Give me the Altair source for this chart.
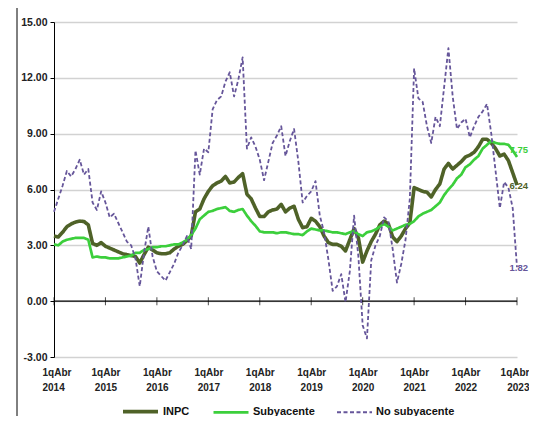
import altair as alt
import pandas as pd

# month index 0 = 1qAbr 2014 ... 108 = 1qAbr 2023
years = [2014, 2015, 2016, 2017, 2018, 2019, 2020, 2021, 2022, 2023]

inpc = [3.5, 3.45, 3.7, 4.0, 4.15, 4.25, 4.3, 4.28, 4.1, 3.1, 3.0, 3.15,
        2.95, 2.85, 2.75, 2.65, 2.55, 2.5, 2.45, 2.4, 2.05, 2.5, 2.9, 2.75,
        2.6, 2.55, 2.55, 2.6, 2.8, 2.95, 3.05, 3.25, 3.5, 4.8, 4.95, 5.5,
        5.9, 6.2, 6.35, 6.45, 6.7, 6.35, 6.4, 6.65, 6.85, 5.75, 5.5, 5.0,
        4.55, 4.55, 4.8, 4.9, 4.95, 5.2, 4.8, 5.0, 5.1, 4.4, 3.95, 4.0,
        4.45, 4.3, 4.0, 3.5, 3.15, 3.05, 3.05, 2.95, 2.7, 3.3, 3.9, 3.4,
        2.1, 2.7, 3.2, 3.6, 4.1, 4.3, 4.15, 3.45, 3.2, 3.5, 3.9, 4.2,
        6.1, 6.0, 5.9, 5.85, 5.6, 6.0, 6.3, 7.1, 7.4, 7.1, 7.3, 7.5,
        7.75, 7.85, 8.0, 8.3, 8.7, 8.7, 8.5, 8.2, 7.8, 7.9, 7.55, 6.9,
        6.24]

subyacente = [3.05, 3.0, 3.2, 3.3, 3.35, 3.4, 3.4, 3.4, 3.3, 2.35, 2.4, 2.35,
              2.35, 2.3, 2.3, 2.3, 2.35, 2.4, 2.45, 2.6, 2.6, 2.75, 2.8, 2.9,
              2.9, 2.95, 2.95, 3.0, 3.05, 3.05, 3.15, 3.3, 3.55, 3.9, 4.4, 4.6,
              4.8, 4.85, 4.95, 5.0, 5.05, 4.85, 4.8, 4.9, 4.95, 4.6, 4.3, 4.05,
              3.75, 3.7, 3.7, 3.7, 3.65, 3.7, 3.7, 3.65, 3.6, 3.6, 3.55, 3.75,
              3.9, 3.85, 3.8, 3.8, 3.75, 3.7, 3.7, 3.65, 3.6, 3.7, 3.75, 3.6,
              3.5, 3.7, 3.75, 3.85, 4.0, 4.15, 4.0, 3.8, 3.9, 4.0, 4.1, 4.15,
              4.3, 4.55, 4.7, 4.8, 4.9, 5.1, 5.3, 5.7, 6.0, 6.25, 6.6, 6.8,
              7.2, 7.35, 7.6, 7.8, 8.2, 8.4, 8.6, 8.5, 8.45, 8.45, 8.4, 8.1,
              7.75]

no_subyacente = [4.8, 5.5, 6.2, 7.0, 6.7, 7.1, 7.6, 6.8, 7.1, 5.3, 4.9, 5.9,
                 5.3, 4.5, 4.7, 4.2, 3.7, 3.2, 3.0, 2.3, 0.8, 2.6, 4.0, 2.4,
                 1.6, 1.35, 1.1, 1.55, 2.0, 2.6, 3.0, 3.5, 2.8, 8.1, 6.8, 8.2,
                 8.0, 10.3, 10.8, 11.0, 11.8, 12.3, 11.0, 11.9, 13.1, 8.2, 8.8, 8.3,
                 7.6, 6.5, 7.5, 8.5, 8.9, 9.4, 7.8, 8.6, 9.25, 7.5, 5.3, 5.65,
                 5.9, 6.45, 4.6, 3.7, 2.25, 0.55, 0.8, 1.45, -0.05, 1.6, 4.6, 2.4,
                 -1.3, -2.0, 2.2, 3.0, 3.5, 4.5, 4.3, 2.8, 1.0, 2.0, 3.3, 5.5,
                 12.5, 10.9, 10.7, 9.4, 8.5, 9.9, 9.4, 11.5, 13.6, 11.0, 9.25, 9.6,
                 9.8, 8.8, 9.4, 9.9, 10.2, 10.6, 9.0, 7.0, 5.0, 6.4, 6.1, 5.0,
                 1.82]

series_names = ["INPC", "Subyacente", "No subyacente"]
series_colors = ["#4f6228", "#3ccf3c", "#66569a"]
series_widths = [3.6, 1.8, 1.4]

rows = []
for name, vals in zip(series_names, [inpc, subyacente, no_subyacente]):
    for i, v in enumerate(vals):
        rows.append({"t": i, "v": v, "serie": name})
df = pd.DataFrame(rows)

FONT = "Liberation Sans, Arial"

xscale = alt.Scale(domain=[0, 108], nice=False, zero=False)
yscale = alt.Scale(domain=[-3, 15], nice=False, zero=False)

year_ticks = [12 * (y - 2014) for y in years]

base_x = alt.X(
    "t:Q", scale=xscale, title=None,
    axis=alt.Axis(values=year_ticks, domain=False, ticks=False, grid=False,
                  labelExpr="['1qAbr', '' + (2014 + datum.value / 12)]",
                  labelFont=FONT, labelFontSize=10, labelFontWeight="bold",
                  labelColor="#222222", labelPadding=10, labelLineHeight=15,
                  labelBaseline="top", labelFlush=True, labelFlushOffset=12,
                  labelOverlap=False)
)

legend = alt.Legend(title=None, orient="none", legendX=67, legendY=370,
                    direction="horizontal", symbolType="stroke", symbolSize=1225,
                    labelFont=FONT, labelFontSize=11, labelFontWeight="bold",
                    labelColor="#111111", labelOffset=3, columnPadding=18,
                    padding=0, labelLimit=200)

lines = alt.Chart(df).mark_line(strokeJoin="round").encode(
    x=base_x,
    y=alt.Y("v:Q", scale=yscale, title=None,
            axis=alt.Axis(values=[-3, 0, 3, 6, 9, 12, 15],
                          labelExpr="datum.value < 0 ? '-' + format(-datum.value, '.2f') : format(datum.value, '.2f')",
                          labelFont=FONT, labelFontSize=10.5, labelFontWeight="bold",
                          labelColor="#222222", labelPadding=3,
                          domainColor="#000000", domainWidth=1,
                          tickColor="#000000", tickSize=4,
                          gridColor="#d2d2d2", gridWidth=1.6)),
    color=alt.Color("serie:N", scale=alt.Scale(domain=series_names, range=series_colors),
                    sort=series_names, legend=legend),
    strokeDash=alt.StrokeDash("serie:N", scale=alt.Scale(domain=series_names,
                              range=[[1, 0], [1, 0], [4, 2.5]]), sort=series_names,
                              legend=legend),
    strokeWidth=alt.StrokeWidth("serie:N", scale=alt.Scale(domain=series_names, range=series_widths),
                                sort=series_names, legend=legend),
    order=alt.Order("t:Q"),
)

zero_df = pd.DataFrame({"v": [0]})
zero_rule = alt.Chart(zero_df).mark_rule(color="#000000", strokeWidth=1.2).encode(
    y=alt.Y("v:Q", scale=yscale)
)

tick_df = pd.DataFrame({"t": year_ticks, "v": [0] * len(year_ticks)})
year_marks = alt.Chart(tick_df).mark_tick(color="#000000", thickness=1, size=8,
                                         orient="vertical").encode(
    x=alt.X("t:Q", scale=xscale),
    y=alt.Y("v:Q", scale=yscale),
)

def end_label(vals, color, dy):
    d = pd.DataFrame({"t": [len(vals) - 1], "v": [vals[-1]],
                      "lab": [f"{vals[-1]:.2f}"]})
    return alt.Chart(d).mark_text(align="right", baseline="middle", dx=11, dy=dy,
                                  font=FONT, fontSize=9.5, fontWeight="bold",
                                  color=color).encode(
        x=alt.X("t:Q", scale=xscale),
        y=alt.Y("v:Q", scale=yscale),
        text="lab:N",
    )

frame = alt.Chart(zero_df).mark_rule(color="#000000", strokeWidth=1).encode(
    x=alt.value(-37), y=alt.value(-14), y2=alt.value(420)
)

chart = alt.layer(
    zero_rule, year_marks, lines,
    end_label(subyacente, "#3ccf3c", -7),
    end_label(inpc, "#4f6228", 1),
    end_label(no_subyacente, "#66569a", 1),
    frame,
).properties(
    width=463, height=335,
    autosize=alt.AutoSizeParams(type="none"),
    padding={"left": 46, "top": 14, "right": 12, "bottom": 59},
).configure_view(stroke=None)

chart.save("out.html", embed_options={"renderer": "svg", "actions": False})
